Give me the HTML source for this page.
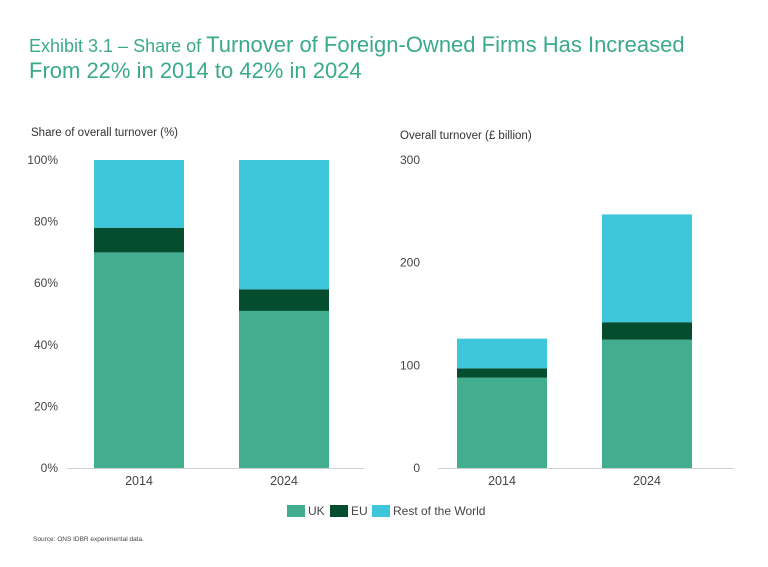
<!DOCTYPE html>
<html><head><meta charset="utf-8"><style>
body{margin:0;background:#fff;font-family:"Liberation Sans",sans-serif;}
#wrap{position:relative;width:768px;height:567px;overflow:hidden;}
</style></head><body>
<div id="wrap">
<svg id="svg" width="768" height="567" xmlns="http://www.w3.org/2000/svg">
<text x="29" y="52" fill="#3aaa8a" font-size="18">Exhibit 3.1 – Share of <tspan font-size="22">Turnover of Foreign-Owned Firms Has Increased</tspan></text>
<text x="29" y="78" fill="#3aaa8a" font-size="22">From 22% in 2014 to 42% in 2024</text>
<text x="31" y="136" fill="#333" font-size="11.5">Share of overall turnover (%)</text>
<text x="400" y="139" fill="#333" font-size="11.5">Overall turnover (£ billion)</text>
<g id="left"></g><g id="right"></g>
<g>
<rect x="287" y="505" width="18" height="12" fill="#43ad8f"/>
<text x="308" y="515" font-size="12" fill="#444">UK</text>
<rect x="330" y="505" width="18" height="12" fill="#044d2e"/>
<text x="351" y="515" font-size="12" fill="#444">EU</text>
<rect x="372" y="505" width="18" height="12" fill="#3ec6da"/>
<text x="393" y="515" font-size="12" fill="#444">Rest of the World</text>
</g>
<text x="33" y="541" font-size="6.5" fill="#444">Source: ONS IDBR experimental data.</text>
</svg>
</div>
<script>
const categories=["2014","2024"];
const shareUK=[70,51];
const shareEU=[8,7];
const shareROW=[22,42];
const turnUK=[88,125];
const turnEU=[9,17];
const turnROW=[29,105];
const leftTicks=["0%","20%","40%","60%","80%","100%"];
const leftTickVals=[0,20,40,60,80,100];
const rightTicks=["0","100","200","300"];
const rightTickVals=[0,100,200,300];
const colors=["#43ad8f","#044d2e","#3ec6da"];
const NS="http://www.w3.org/2000/svg";
function mk(tag,attrs,parent){const e=document.createElementNS(NS,tag);for(const k in attrs)e.setAttribute(k,attrs[k]);parent.appendChild(e);return e;}
function draw(gid,x0,x1,labelX,max,tickVals,tickLabels,series,barXs,prefix){
  const g=document.getElementById(gid);
  const y0=468,yTop=160;
  const y=v=>y0-(v/max)*(y0-yTop);
  tickVals.forEach((v,i)=>{
    const t=mk("text",{x:labelX,y:y(v)+4,"text-anchor":"end","font-size":"12",fill:"#444"},g);
    t.textContent=tickLabels[i];
    
    
  });
  categories.forEach((c,ci)=>{
    let acc=0;
    series.forEach((s,si)=>{
      const v=s[ci];
      const r=mk("rect",{x:barXs[ci],y:y(acc+v),width:90,height:y(acc)-y(acc+v),fill:colors[si]},g);
      
      
      acc+=v;
    });
    const t=mk("text",{x:barXs[ci]+45,y:485,"text-anchor":"middle","font-size":"12.5",fill:"#444"},g);
    t.textContent=c;
    
    
  });
  const l=mk("line",{x1:x0,x2:x1,y1:y0+0.5,y2:y0+0.5,stroke:"#d0d0d0","stroke-width":"1"},g);
  
  
}
draw("left",67,364,58,100,leftTickVals,leftTicks,[shareUK,shareEU,shareROW],[94,239],"left");
draw("right",438,734,420,300,rightTickVals,rightTicks,[turnUK,turnEU,turnROW],[457,602],"right");
</script>
</body></html>
